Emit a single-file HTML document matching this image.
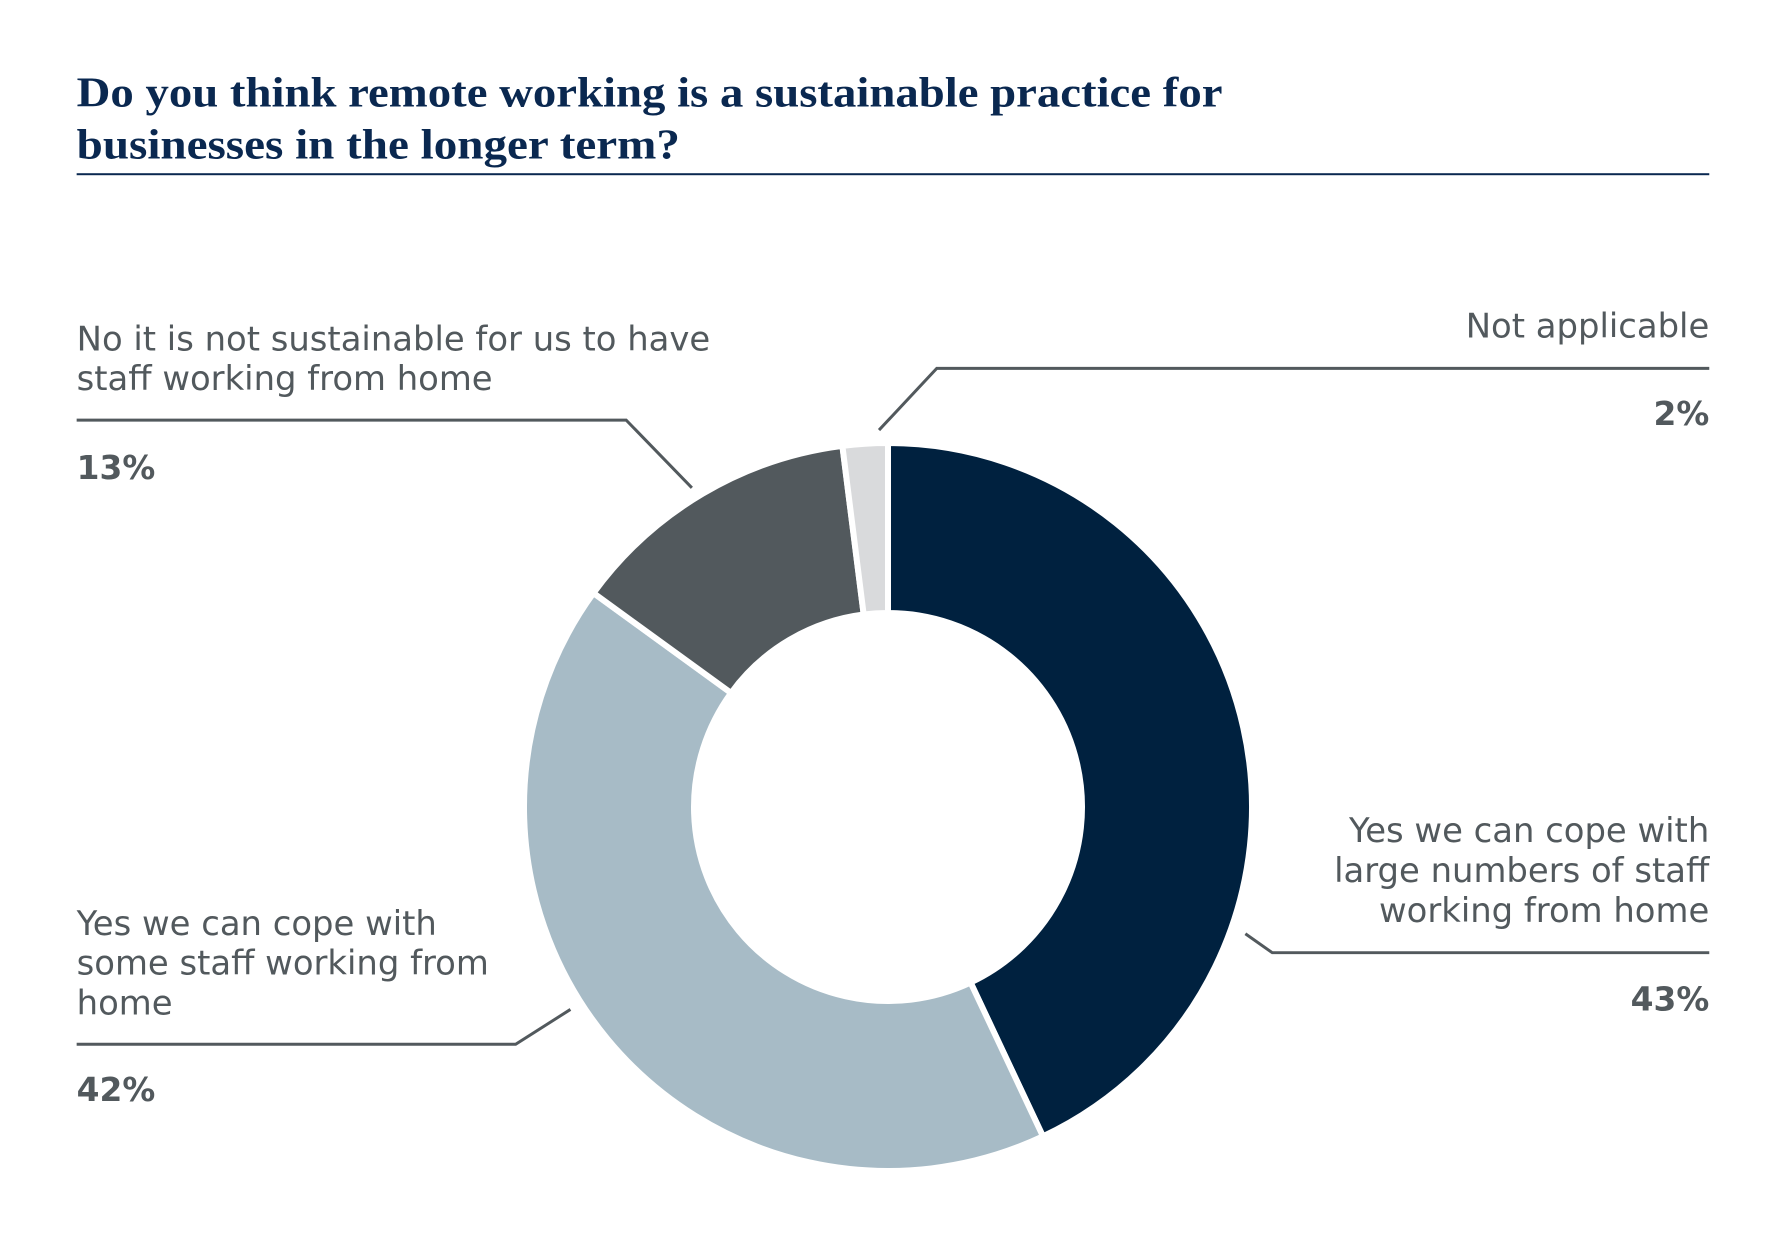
<!DOCTYPE html>
<html><head><meta charset="utf-8"><style>
html,body{margin:0;padding:0;background:#fff;}
svg{display:block;}
</style></head><body>
<svg id="s" width="1785" height="1250" viewBox="0 0 1785 1250" xmlns="http://www.w3.org/2000/svg">
<g transform="scale(0.9955)">
<text x="77" y="107" font-family="Liberation Serif, serif" font-weight="bold" font-size="42" fill="#0a2850" textLength="1151" lengthAdjust="spacingAndGlyphs">Do you think remote working is a sustainable practice for</text>
<text x="77" y="159" font-family="Liberation Serif, serif" font-weight="bold" font-size="42" fill="#0a2850" textLength="606" lengthAdjust="spacingAndGlyphs">businesses in the longer term?</text>
<rect x="77" y="174" width="1640" height="2" fill="#0a2850"/>
<g id="pie"></g>
<g fill="none" stroke="#52595d" stroke-width="3">
<polyline points="77,422 629,422 695,490"/>
<polyline points="1717,370 941,370 883,432"/>
<polyline points="1717,957 1278,957 1251,938"/>
<polyline points="77,1049 518,1049 573,1014"/>
</g>
<g font-family="DejaVu Sans, sans-serif" font-size="34" fill="#52595d">
<text x="77" y="352">No it is not sustainable for us to have</text>
<text x="77" y="392">staff working from home</text>
<text x="77" y="481" font-weight="bold" font-size="33">13%</text>
<text x="1717" y="339" text-anchor="end">Not applicable</text>
<text x="1717" y="427" text-anchor="end" font-weight="bold" font-size="33">2%</text>
<text x="1717" y="846" text-anchor="end">Yes we can cope with</text>
<text x="1717" y="886" text-anchor="end">large numbers of staff</text>
<text x="1717" y="926" text-anchor="end">working from home</text>
<text x="1717" y="1015" text-anchor="end" font-weight="bold" font-size="33">43%</text>
<text x="77" y="939">Yes we can cope with</text>
<text x="77" y="979">some staff working from</text>
<text x="77" y="1019">home</text>
<text x="77" y="1106" font-weight="bold" font-size="33">42%</text>
</g>
</g>
</svg>
<script>
(function(){
var cx=888,cy=807,R=364,r=194;
var data=[[43,"#00213f"],[42,"#a7bbc6"],[13,"#52595d"],[2,"#d9dadc"]];
var g=document.getElementById("pie"),a=0,ns="http://www.w3.org/2000/svg";
g.setAttribute("transform","scale(1.00452)");
function pt(rad,ang){var t=ang/100*2*Math.PI;return [cx+rad*Math.sin(t),cy-rad*Math.cos(t)];}
data.forEach(function(d){
 var b=a+d[0],large=d[0]>50?1:0;
 var p1=pt(R,a),p2=pt(R,b),p3=pt(r,b),p4=pt(r,a);
 var path="M"+p1+" A"+R+","+R+" 0 "+large+" 1 "+p2+" L"+p3+" A"+r+","+r+" 0 "+large+" 0 "+p4+"Z";
 var e=document.createElementNS(ns,"path");
 e.setAttribute("d",path);e.setAttribute("fill",d[1]);
 e.setAttribute("stroke","#fff");e.setAttribute("stroke-width","6");
 g.appendChild(e);a=b;
});
})();
</script>
</body></html>
